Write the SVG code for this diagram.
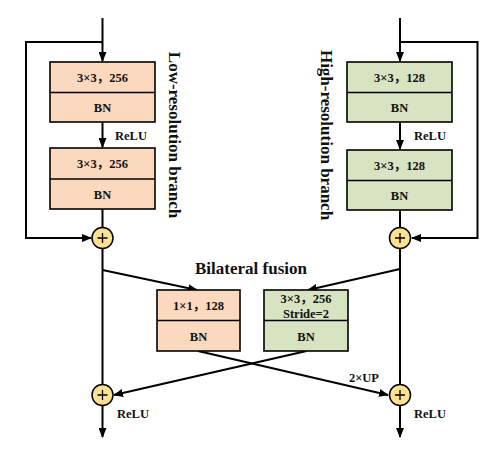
<svg xmlns="http://www.w3.org/2000/svg" width="491" height="461" viewBox="0 0 491 461">
<style>
.ln{fill:none;stroke:#000;stroke-width:2}
.lo{fill:#FAD9BF;stroke:#000;stroke-width:1.6}
.hi{fill:#D7E3C1;stroke:#000;stroke-width:1.6}
.dv{stroke:#000;stroke-width:1.6}
.t{font-family:"Liberation Serif","Noto Sans CJK SC",serif;font-weight:bold;font-size:12.5px;text-anchor:middle;fill:#111}
.big{font-family:"Liberation Serif",serif;font-weight:bold;font-size:17px;text-anchor:middle;fill:#111}
.add{fill:#FDE192;stroke:#000;stroke-width:1.5}
.pl{stroke:#000;stroke-width:1.3}
</style>
<defs>
<marker id="ah" markerWidth="10" markerHeight="8" refX="9" refY="4" orient="auto" markerUnits="userSpaceOnUse">
<path d="M0,0 L10,4 L0,8 z" fill="#000"/>
</marker>
</defs>
<g id="connectors">
<path class="ln" d="M102.5,18 V61" marker-end="url(#ah)"/>
<path class="ln" d="M102.5,42 H26 V238 H91" marker-end="url(#ah)"/>
<path class="ln" d="M102.5,122 V147" marker-end="url(#ah)"/>
<path class="ln" d="M102.5,209 V227"/>
<path class="ln" d="M102.5,249 V384"/>
<path class="ln" d="M102.5,406 V437" marker-end="url(#ah)"/>
<path class="ln" d="M400,18 V61" marker-end="url(#ah)"/>
<path class="ln" d="M400,42 H477.5 V238 H412" marker-end="url(#ah)"/>
<path class="ln" d="M400,122 V149" marker-end="url(#ah)"/>
<path class="ln" d="M400,210 V227"/>
<path class="ln" d="M400,249 V384"/>
<path class="ln" d="M400,406 V437" marker-end="url(#ah)"/>
<path class="ln" d="M102.5,270 L197,290" marker-end="url(#ah)"/>
<path class="ln" d="M400,269 L308,290" marker-end="url(#ah)"/>
<path class="ln" d="M198,351 L388,395" marker-end="url(#ah)"/>
<path class="ln" d="M306.5,351 L114,395" marker-end="url(#ah)"/>
</g>
<g id="low1">
<rect class="lo" x="50" y="62" width="105" height="60"/>
<line class="dv" x1="50" y1="92.5" x2="155" y2="92.5"/>
<text class="t" x="102.5" y="82">3×3，256</text>
<text class="t" x="102.5" y="112">BN</text>
</g>
<g id="low2">
<rect class="lo" x="50" y="148" width="105" height="61"/>
<line class="dv" x1="50" y1="179" x2="155" y2="179"/>
<text class="t" x="102.5" y="168">3×3，256</text>
<text class="t" x="102.5" y="199">BN</text>
</g>
<g id="high1">
<rect class="hi" x="347" y="62" width="105" height="60"/>
<line class="dv" x1="347" y1="92.5" x2="452" y2="92.5"/>
<text class="t" x="399.5" y="82">3×3，128</text>
<text class="t" x="399.5" y="112">BN</text>
</g>
<g id="high2">
<rect class="hi" x="347" y="150" width="105" height="60"/>
<line class="dv" x1="347" y1="180.5" x2="452" y2="180.5"/>
<text class="t" x="399.5" y="170">3×3，128</text>
<text class="t" x="399.5" y="200">BN</text>
</g>
<g id="fuse-low">
<rect class="lo" x="157" y="290" width="83" height="61"/>
<line class="dv" x1="157" y1="320.5" x2="240" y2="320.5"/>
<text class="t" x="198.5" y="310">1×1，128</text>
<text class="t" x="198.5" y="341">BN</text>
</g>
<g id="fuse-high">
<rect class="hi" x="264" y="290" width="84" height="61"/>
<line class="dv" x1="264" y1="320.5" x2="348" y2="320.5"/>
<text class="t" x="306" y="303">3×3，256</text>
<text class="t" x="306" y="318">Stride=2</text>
<text class="t" x="306" y="341">BN</text>
</g>
<g id="add-l1"><circle class="add" cx="102.5" cy="238" r="10.5"/><path class="pl" d="M97.5,238 H107.5 M102.5,233 V243"/></g>
<g id="add-r1"><circle class="add" cx="400" cy="238" r="10.5"/><path class="pl" d="M395,238 H405 M400,233 V243"/></g>
<g id="add-l2"><circle class="add" cx="102.5" cy="395" r="10.5"/><path class="pl" d="M97.5,395 H107.5 M102.5,390 V400"/></g>
<g id="add-r2"><circle class="add" cx="400" cy="395" r="10.5"/><path class="pl" d="M395,395 H405 M400,390 V400"/></g>
<g id="labels">
<text class="t" x="131" y="140">ReLU</text>
<text class="t" x="430" y="140">ReLU</text>
<text class="t" x="133" y="418">ReLU</text>
<text class="t" x="430" y="418">ReLU</text>
<text class="t" x="364" y="382">2×UP</text>
<text class="big" x="251" y="274">Bilateral fusion</text>
<text class="big" transform="translate(169,135) rotate(90)">Low-resolution branch</text>
<text class="big" transform="translate(321,135) rotate(90)">High-resolution branch</text>
</g>
</svg>
